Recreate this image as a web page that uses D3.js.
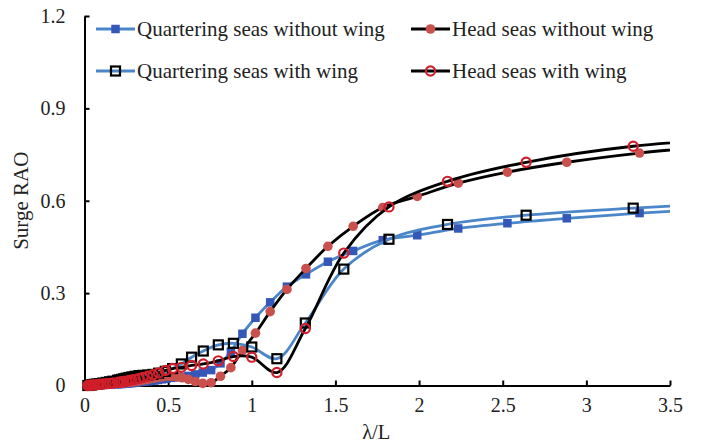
<!DOCTYPE html>
<html>
<head>
<meta charset="utf-8">
<script src="https://cdn.jsdelivr.net/npm/d3@7"></script>
<style>
  body { margin: 0; background: #fff; }
  text { font-family: "Liberation Serif", "Times New Roman", serif; fill: #222; }
</style>
</head>
<body>
<svg id="chart" width="701" height="443"></svg>
<script>
// wavelength / ship length, two frequency grids (without wing / with wing)
const xNoWing = [3.86, 3.318, 2.883, 2.528, 2.234, 1.989, 1.783, 1.606, 1.455, 1.324, 1.210, 1.110, 1.022,
  0.944, 0.875, 0.813, 0.757, 0.707, 0.662, 0.621, 0.584, 0.550, 0.518, 0.490, 0.463, 0.439, 0.417,
  0.396, 0.377, 0.359, 0.342, 0.327, 0.312, 0.299, 0.286, 0.274, 0.263, 0.253, 0.243, 0.234, 0.225,
  0.217, 0.200, 0.180, 0.160, 0.140, 0.120, 0.100, 0.085, 0.070, 0.055, 0.040, 0.030, 0.020];
const xWing = [4.17, 3.28, 2.64, 2.17, 1.82, 1.55, 1.32, 1.15, 1.00, 0.89, 0.80, 0.71, 0.64, 0.579,
  0.527, 0.483, 0.443, 0.409, 0.378, 0.350, 0.326, 0.304, 0.284, 0.266, 0.250, 0.235, 0.221, 0.208,
  0.198, 0.170, 0.150, 0.130, 0.110, 0.090, 0.075, 0.060, 0.050, 0.040, 0.030, 0.020];

const quarterNoWing = [0.576, 0.560, 0.543, 0.527, 0.510, 0.488, 0.472, 0.437, 0.402, 0.361, 0.321, 0.270, 0.220,
  0.168, 0.110, 0.072, 0.050, 0.042, 0.036, 0.031, 0.028, 0.027, 0.025, 0.022, 0.020, 0.018, 0.016,
  0.015, 0.014, 0.013, 0.012, 0.011, 0.010, 0.009, 0.008, 0.008, 0.007, 0.007, 0.006, 0.006, 0.005,
  0.005, 0.004, 0.004, 0.003, 0.003, 0.002, 0.002, 0.002, 0.001, 0.001, 0.001, 0.000, 0.000];
const headNoWing = [0.782, 0.755, 0.725, 0.693, 0.657, 0.614, 0.578, 0.517, 0.452, 0.380, 0.312, 0.240, 0.170,
  0.114, 0.058, 0.030, 0.009, 0.007, 0.013, 0.020, 0.025, 0.028, 0.030, 0.030, 0.028, 0.026, 0.024,
  0.022, 0.020, 0.018, 0.016, 0.015, 0.014, 0.013, 0.012, 0.011, 0.010, 0.010, 0.009, 0.009, 0.008,
  0.008, 0.007, 0.006, 0.005, 0.005, 0.004, 0.003, 0.003, 0.002, 0.002, 0.001, 0.001, 0.000];
const quarterWing = [0.602, 0.576, 0.553, 0.523, 0.475, 0.378, 0.203, 0.087, 0.125, 0.137, 0.132, 0.112, 0.092, 0.070,
  0.055, 0.046, 0.040, 0.036, 0.034, 0.033, 0.032, 0.030, 0.028, 0.026, 0.024, 0.022, 0.020, 0.018,
  0.017, 0.014, 0.012, 0.010, 0.008, 0.006, 0.005, 0.004, 0.003, 0.002, 0.001, 0.000];
const headWing = [0.810, 0.777, 0.725, 0.663, 0.580, 0.430, 0.185, 0.042, 0.092, 0.094, 0.080, 0.070, 0.065, 0.059,
  0.055, 0.049, 0.041, 0.035, 0.030, 0.026, 0.023, 0.020, 0.018, 0.016, 0.014, 0.013, 0.012, 0.011,
  0.010, 0.008, 0.007, 0.006, 0.005, 0.004, 0.003, 0.002, 0.002, 0.001, 0.001, 0.000];

const xTicks = [0, 0.5, 1, 1.5, 2, 2.5, 3, 3.5];
const yTicks = [0, 0.3, 0.6, 0.9, 1.2];

const seriesNames = ["Quartering seas without wing", "Head seas without wing",
  "Quartering seas with wing", "Head seas with wing"];

const series = [
  { name: seriesNames[0], xs: xNoWing, ys: quarterNoWing, line: "#4a86c8", marker: "square", fill: "#3558b8", stroke: "none" },
  { name: seriesNames[1], xs: xNoWing, ys: headNoWing, line: "#000", marker: "circle", fill: "#c9504d", stroke: "none" },
  { name: seriesNames[2], xs: xWing, ys: quarterWing, line: "#4a86c8", marker: "square", fill: "none", stroke: "#000" },
  { name: seriesNames[3], xs: xWing, ys: headWing, line: "#000", marker: "circle", fill: "none", stroke: "#d01f2a" }
];

const margin = { left: 84.5, right: 31, top: 16, bottom: 57.5 };
const svg = d3.select("#chart");
const W = +svg.attr("width"), H = +svg.attr("height");
const innerW = W - margin.left - margin.right;
const innerH = H - margin.top - margin.bottom;

const x = d3.scaleLinear().domain([0, 3.5]).range([0, innerW]);
const y = d3.scaleLinear().domain([0, 1.2]).range([innerH, 0]);

const g = svg.append("g").attr("transform", `translate(${margin.left},${margin.top})`);

svg.append("defs").append("clipPath").attr("id", "clip")
  .append("rect").attr("x", -12).attr("y", -12).attr("width", innerW + 12).attr("height", innerH + 24);

// axes
const xAxis = g.append("g").attr("transform", `translate(0,${innerH})`)
  .call(d3.axisBottom(x).tickValues(xTicks).tickSizeInner(-5).tickSizeOuter(0).tickPadding(12)
    .tickFormat(d3.format("")));
const yAxis = g.append("g")
  .call(d3.axisLeft(y).tickValues(yTicks).tickSizeInner(-5).tickSizeOuter(0).tickPadding(19)
    .tickFormat(d3.format("")));
[xAxis, yAxis].forEach(a => {
  a.select(".domain").attr("stroke", "#000").attr("stroke-width", 2);
  a.selectAll(".tick line").attr("stroke", "#000").attr("stroke-width", 2);
  a.selectAll(".tick text").style("font-family", "Liberation Serif").style("font-size", "20px").attr("fill", "#222");
});
xAxis.selectAll(".tick text").attr("dy", "0.72em");

// axis titles
svg.append("text").attr("x", margin.left + innerW / 2 - 1).attr("y", 439)
  .attr("text-anchor", "middle").style("font-size", "20.5px").text("λ/L");
svg.append("text").attr("transform", `translate(28,${margin.top + innerH / 2}) rotate(-90)`)
  .attr("text-anchor", "middle").style("font-size", "21px").text("Surge RAO");

const plot = g.append("g").attr("clip-path", "url(#clip)");
const line = d3.line().curve(d3.curveCatmullRom.alpha(0.5)).x(d => x(d[0])).y(d => y(d[1]));

function drawMarker(sel, s, cx, cy) {
  if (s.marker === "square") {
    const size = s.fill === "none" ? 9 : 8.5;
    sel.append("rect").attr("x", cx - size / 2).attr("y", cy - size / 2)
      .attr("width", size).attr("height", size)
      .attr("fill", s.fill === "none" ? "#fff" : s.fill).attr("fill-opacity", s.fill === "none" ? 0 : 1)
      .attr("stroke", s.stroke).attr("stroke-width", s.fill === "none" ? 2.2 : 0);
  } else {
    const r = s.fill === "none" ? 4.6 : 4.8;
    sel.append("circle").attr("cx", cx).attr("cy", cy).attr("r", r)
      .attr("fill", s.fill).attr("stroke", s.stroke).attr("stroke-width", s.fill === "none" ? 2.2 : 0);
  }
}

series.forEach(s => {
  const pts = s.xs.map((v, i) => [v, s.ys[i]]).sort((a, b) => a[0] - b[0]);
  const sg = plot.append("g");
  sg.append("path").datum(pts).attr("d", line)
    .attr("fill", "none").attr("stroke", s.line).attr("stroke-width", 2.8);
  pts.filter(p => p[0] <= 3.5).forEach(p => drawMarker(sg, s, x(p[0]), y(p[1])));
});

// legend
const legendPos = [[96, 29], [411, 29], [96, 71], [411, 71]];
series.forEach((s, i) => {
  const [lx, ly] = legendPos[i];
  const lg = svg.append("g");
  lg.append("line").attr("x1", lx).attr("x2", lx + 39).attr("y1", ly).attr("y2", ly)
    .attr("stroke", s.line).attr("stroke-width", 2.8);
  drawMarker(lg, s, lx + 19.5, ly);
  lg.append("text").attr("x", lx + 41).attr("y", ly).attr("dy", "0.33em")
    .style("font-size", "21px").text(s.name);
});
</script>
</body>
</html>
